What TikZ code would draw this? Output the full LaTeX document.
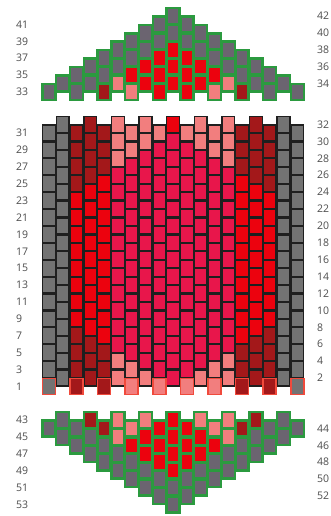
\documentclass[tikz,border=0pt]{standalone}
\usepackage{fontspec}
\setmainfont{Open Sans}
\usepackage{tikz}
\usetikzlibrary{positioning}
\definecolor{beadgray}{HTML}{737373}
\definecolor{tipgray}{HTML}{6B6470}
\definecolor{wine}{HTML}{A3181A}
\definecolor{signal}{HTML}{EC020E}
\definecolor{crimson}{HTML}{E8164B}
\definecolor{salmon}{HTML}{F27E7E}
\definecolor{leaf}{HTML}{2B9A3F}
\definecolor{edgered}{HTML}{F04A3C}
\definecolor{labelgray}{HTML}{4D4D4D}
\tikzset{
  bodybead/.style={draw=black!88, line width=1.4pt},
  edgebead/.style={draw=edgered, line width=1.6pt},
  tipbead/.style={draw=leaf, line width=2.5pt},
  rowlabel/.style={font=\fontsize{10.5}{10.5}\selectfont, text=labelgray,
                   inner sep=0pt, anchor=west},
}

\begin{document}
\begin{tikzpicture}[font=\small, x=1pt, y=1pt]

\path[fill=white] (0,0) rectangle (331,516);
\useasboundingbox (0,0) rectangle (331,516);

% ---- main body : rows 1-32 ----
\begin{scope}[shift={(35.1pt,121.05pt)}, x=13.8pt, y=8.45pt]
  \foreach \cx/\base in {1/beadgray,2/beadgray,3/signal,4/signal,5/signal,
      6/crimson,7/crimson,8/crimson,9/crimson,10/crimson,11/crimson,12/crimson,
      13/crimson,14/crimson,15/signal,16/signal,17/signal,18/beadgray,19/beadgray}{
    \pgfmathtruncatemacro{\rs}{2-mod(\cx,2)}
    \pgfmathtruncatemacro{\rn}{\rs+2}
    \foreach \rw in {\rs,\rn,...,32}
      \draw[bodybead, fill=\base] (\cx-0.47,\rw-0.95) rectangle (\cx+0.47,\rw+0.95);
  }
  % shaded beads, left half (mirrored about column 10)
  \foreach \cx/\rw/\tone in {3/1/wine,3/3/wine,3/5/wine,3/7/wine,3/25/wine,3/27/wine,3/29/wine,3/31/wine,
      4/2/wine,4/4/wine,4/6/wine,4/26/wine,4/28/wine,4/30/wine,4/32/wine,
      5/1/wine,5/3/wine,5/5/wine,5/27/wine,5/29/wine,5/31/wine,
      6/2/salmon,6/4/salmon,6/28/salmon,6/30/salmon,6/32/salmon,
      7/1/salmon,7/3/salmon,7/29/salmon,7/31/salmon,
      8/2/salmon,8/30/salmon,8/32/salmon,
      9/1/salmon,9/31/salmon,10/32/signal}{
    \draw[bodybead, fill=\tone] (\cx-0.47,\rw-0.95) rectangle (\cx+0.47,\rw+0.95);
    \draw[bodybead, fill=\tone] (20-\cx-0.47,\rw-0.95) rectangle (20-\cx+0.47,\rw+0.95);
  }
  % closing row
  \foreach \cx in {1,3,...,19}
    \draw[edgebead] (\cx-0.47,0.05) rectangle (\cx+0.47,1.95);
  % row numbers
  \foreach \rw in {1,3,...,31}
    \node[rowlabel] (odd\rw) at (-1.384,\rw) {\rw};
  \foreach \rw in {2,4,...,32}
    \node[rowlabel] (even\rw) at (20.43,\rw) {\rw};
\end{scope}

% ---- top point : rows 33-42 ----
\begin{scope}[shift={(35.1pt,145.15pt)}, x=13.8pt, y=8.45pt]
  \foreach \cx in {1,...,19}{
    \pgfmathtruncatemacro{\rb}{34-mod(\cx,2)}
    \pgfmathtruncatemacro{\nb}{(42-abs(\cx-10)-\rb)/2}
    \foreach \j in {0,...,\nb}{
      \pgfmathtruncatemacro{\rw}{\rb+2*\j}
      \draw[tipbead, fill=tipgray] (\cx-0.47,\rw-0.95) rectangle (\cx+0.47,\rw+0.95);
    }
  }
  \foreach \cx/\rw/\tone in {5/33/wine,7/33/salmon,9/33/signal,
      6/34/salmon,8/34/signal,10/34/signal,7/35/signal,9/35/signal,
      8/36/signal,10/36/signal,9/37/signal,10/38/signal}{
    \draw[tipbead, fill=\tone] (\cx-0.47,\rw-0.95) rectangle (\cx+0.47,\rw+0.95);
    \draw[tipbead, fill=\tone] (20-\cx-0.47,\rw-0.95) rectangle (20-\cx+0.47,\rw+0.95);
  }
  \foreach \rw in {33,35,...,41}
    \node[rowlabel] (odd\rw) at (-1.384,\rw) {\rw};
  \foreach \rw in {34,36,...,42}
    \node[rowlabel] (even\rw) at (20.43,\rw) {\rw};
\end{scope}

% ---- bottom point : rows 43-53 ----
\begin{scope}[shift={(35.1pt,459.35pt)}, x=13.8pt, y=-8.45pt]
  \foreach \cx in {1,...,19}{
    \pgfmathtruncatemacro{\rt}{43+mod(\cx,2)}
    \pgfmathtruncatemacro{\nb}{(53-abs(\cx-10)-\rt)/2}
    \foreach \j in {0,...,\nb}{
      \pgfmathtruncatemacro{\rw}{\rt+2*\j}
      \draw[tipbead, fill=tipgray] (\cx-0.47,\rw-0.95) rectangle (\cx+0.47,\rw+0.95);
    }
  }
  \foreach \cx/\rw/\tone in {4/43/wine,6/43/salmon,8/43/salmon,10/43/signal,
      5/44/wine,7/44/salmon,9/44/signal,6/45/salmon,8/45/signal,10/45/signal,
      7/46/signal,9/46/signal,8/47/signal,10/47/signal,9/48/signal,10/49/signal}{
    \draw[tipbead, fill=\tone] (\cx-0.47,\rw-0.95) rectangle (\cx+0.47,\rw+0.95);
    \draw[tipbead, fill=\tone] (20-\cx-0.47,\rw-0.95) rectangle (20-\cx+0.47,\rw+0.95);
  }
  \foreach \rw in {43,45,...,53}
    \node[rowlabel] (odd\rw) at (-1.384,\rw) {\rw};
  \foreach \rw in {44,46,...,52}
    \node[rowlabel] (even\rw) at (20.43,\rw) {\rw};
\end{scope}

\end{tikzpicture}
\end{document}
